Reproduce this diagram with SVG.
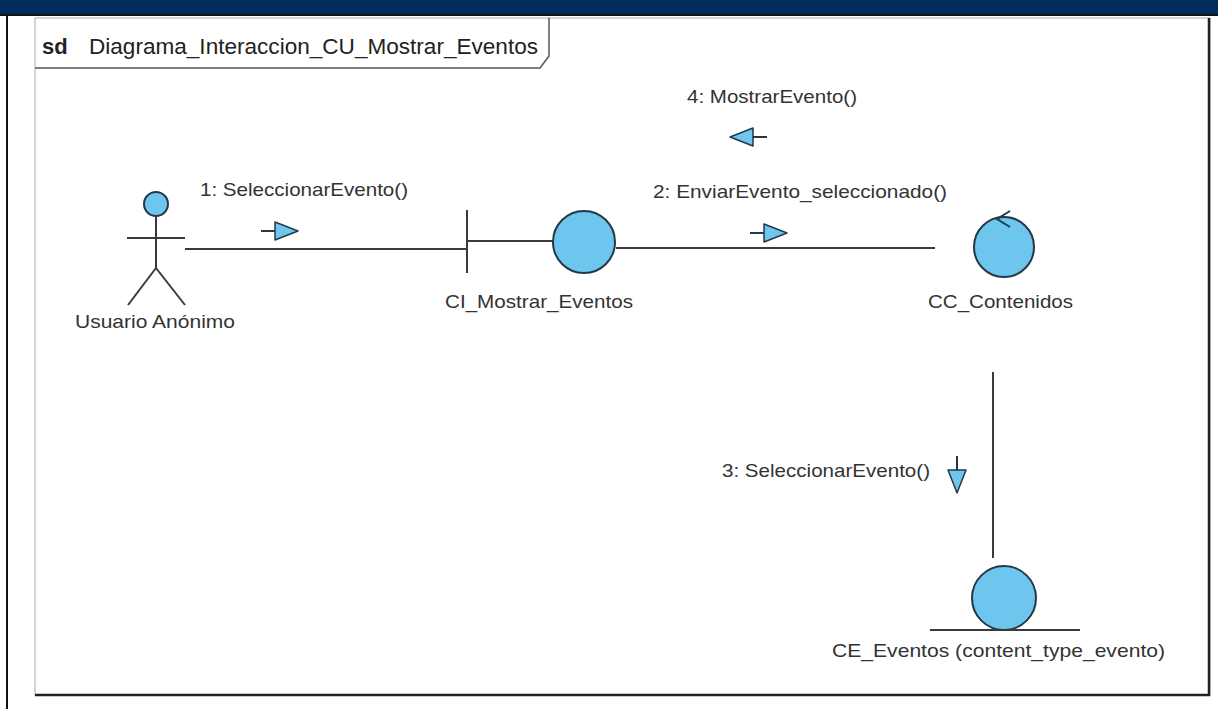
<svg xmlns="http://www.w3.org/2000/svg" width="1218" height="709" viewBox="0 0 1218 709">
  <style>
    .lbl { font-family: "Liberation Sans", Arial, sans-serif; font-size: 19px; fill: #333333; }
    .ttl { font-family: "Liberation Sans", Arial, sans-serif; font-size: 22px; fill: #222222; }
    .ln { stroke: #3a3a3a; stroke-width: 2; fill: none; }
    .sym { fill: #6ec6ef; stroke: #243848; stroke-width: 2; }
    .msg { fill: #6ec6ef; stroke: #243848; stroke-width: 1.5; stroke-linejoin: round; }
  </style>
  <defs>
    <!-- message arrow glyph pointing right, origin at the tip -->
    <g id="msgArrow">
      <line x1="-37" y1="0" x2="-22" y2="0" stroke="#243848" stroke-width="2"/>
      <polygon class="msg" points="0,0 -23,-9 -23,9"/>
    </g>
  </defs>

  <!-- page background and header bar -->
  <rect x="0" y="0" width="1218" height="709" fill="#ffffff"/>
  <rect x="0" y="0" width="1218" height="14" fill="#002d5c"/>
  <rect x="0" y="14" width="1218" height="2" fill="#111111"/>
  <rect x="6" y="14" width="2" height="695" fill="#111111"/>

  <!-- diagram frame -->
  <g id="frame">
    <rect x="35" y="18" width="1175" height="677" fill="#ffffff" stroke="#c8c8c8" stroke-width="1.5"/>
    <line x1="1209" y1="18" x2="1209" y2="696" stroke="#222222" stroke-width="2.5"/>
    <line x1="35" y1="695" x2="1210" y2="695" stroke="#222222" stroke-width="2.5"/>
    <path d="M35,68 L540,68 L549,56 L549,18" fill="none" stroke="#555555" stroke-width="1.5"/>
    <text x="42" y="54" class="ttl" font-weight="bold">sd</text>
    <text x="89" y="54" class="ttl" textLength="449" lengthAdjust="spacingAndGlyphs">Diagrama_Interaccion_CU_Mostrar_Eventos</text>
  </g>

  <!-- connectors -->
  <g id="connectors">
    <line class="ln" x1="185" y1="249" x2="466" y2="249"/>
    <line class="ln" x1="616" y1="248" x2="935" y2="248"/>
    <line class="ln" x1="993" y1="372" x2="993" y2="558"/>

    <text x="200" y="196" class="lbl" textLength="208" lengthAdjust="spacingAndGlyphs">1: SeleccionarEvento()</text>
    <use href="#msgArrow" transform="translate(298,231)"/>

    <text x="653" y="198" class="lbl" textLength="294" lengthAdjust="spacingAndGlyphs">2: EnviarEvento_seleccionado()</text>
    <use href="#msgArrow" transform="translate(787,233)"/>

    <text x="722" y="477" class="lbl" textLength="208" lengthAdjust="spacingAndGlyphs">3: SeleccionarEvento()</text>
    <use href="#msgArrow" transform="translate(957,493) rotate(90)"/>

    <text x="687" y="103" class="lbl" textLength="170" lengthAdjust="spacingAndGlyphs">4: MostrarEvento()</text>
    <use href="#msgArrow" transform="translate(730,137) rotate(180)"/>
  </g>

  <!-- actor -->
  <g id="usuario-anonimo">
    <circle class="sym" cx="156" cy="204" r="12"/>
    <line class="ln" x1="156" y1="216" x2="156" y2="268"/>
    <line class="ln" x1="127" y1="238" x2="185" y2="238"/>
    <line class="ln" x1="156" y1="268" x2="128" y2="305"/>
    <line class="ln" x1="156" y1="268" x2="185" y2="305"/>
    <text x="75" y="328" class="lbl" textLength="160" lengthAdjust="spacingAndGlyphs">Usuario Anónimo</text>
  </g>

  <!-- boundary -->
  <g id="ci-mostrar-eventos">
    <line class="ln" x1="467" y1="210" x2="467" y2="273"/>
    <line class="ln" x1="467" y1="241" x2="553" y2="241"/>
    <circle class="sym" cx="584" cy="242" r="31"/>
    <text x="445" y="308" class="lbl" textLength="188" lengthAdjust="spacingAndGlyphs">CI_Mostrar_Eventos</text>
  </g>

  <!-- control -->
  <g id="cc-contenidos">
    <circle class="sym" cx="1004" cy="247" r="30"/>
    <path d="M1010,211 L997,219 L1010,227" fill="none" stroke="#243848" stroke-width="2"/>
    <text x="928" y="308" class="lbl" textLength="145" lengthAdjust="spacingAndGlyphs">CC_Contenidos</text>
  </g>

  <!-- entity -->
  <g id="ce-eventos">
    <circle class="sym" cx="1004" cy="598" r="32"/>
    <line class="ln" x1="930" y1="630" x2="1080" y2="630"/>
    <text x="832" y="657" class="lbl" textLength="333" lengthAdjust="spacingAndGlyphs">CE_Eventos (content_type_evento)</text>
  </g>
</svg>
